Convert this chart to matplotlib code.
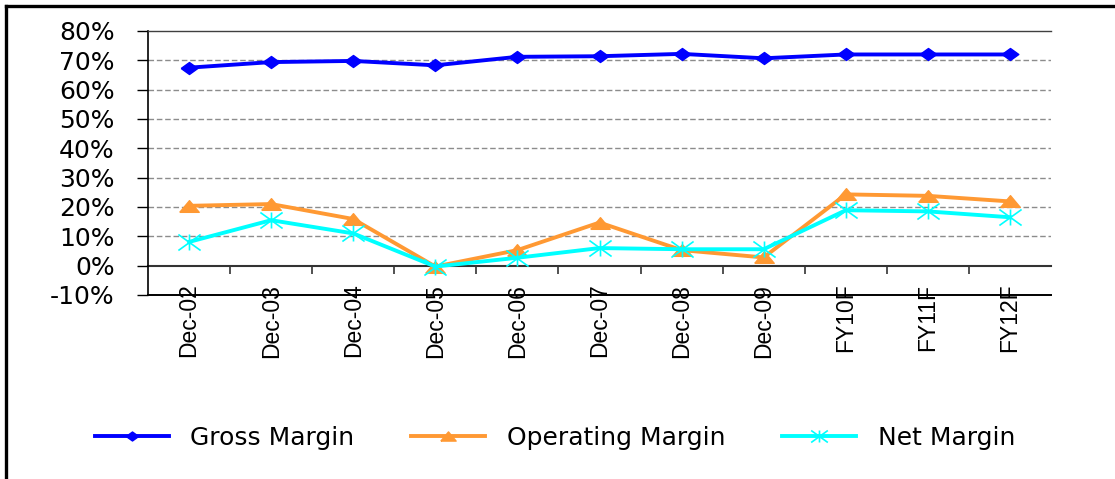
import matplotlib
matplotlib.use("Agg")
import matplotlib.pyplot as plt
from matplotlib.ticker import PercentFormatter, FixedLocator, NullFormatter
from matplotlib.path import Path
from matplotlib.lines import Line2D

plt.rcParams['axes.unicode_minus'] = False

categories = ["Dec-02", "Dec-03", "Dec-04", "Dec-05", "Dec-06", "Dec-07",
              "Dec-08", "Dec-09", "FY10F", "FY11F", "FY12F"]
gross_margin = [67.5, 69.4, 69.8, 68.3, 71.2, 71.4, 72.2, 70.7, 72.0, 72.0, 72.0]
operating_margin = [20.4, 21.0, 15.9, -0.3, 5.3, 14.7, 5.3, 2.8, 24.3, 23.8, 21.9]
net_margin = [8.1, 15.5, 11.0, -0.3, 2.7, 6.0, 5.6, 5.6, 18.9, 18.5, 16.5]
y_ticks = [-10, 0, 10, 20, 30, 40, 50, 60, 70, 80]

series_names = ["Gross Margin", "Operating Margin", "Net Margin"]
colors = ["#0000FF", "#FF9933", "#00FFFF"]

diamond = [(-1, 0), (0, 0.72), (1, 0), (0, -0.72), (-1, 0)]
triangle = [(-1, -0.6), (1, -0.6), (0, 0.6), (-1, -0.6)]
asterisk = Path([(0, -0.72), (0, 0.72), (-1, -0.72), (1, 0.72), (-1, 0.72), (1, -0.72)],
                [Path.MOVETO, Path.LINETO, Path.MOVETO, Path.LINETO, Path.MOVETO, Path.LINETO])

fig = plt.figure(figsize=(11.15, 4.79), dpi=100)
ax = fig.add_axes([148 / 1115, 1 - 295 / 479, (1051 - 148) / 1115, (295 - 31) / 479])

x = list(range(len(categories)))
ax.plot(x, gross_margin, color=colors[0], lw=2.8, marker=diamond, ms=12,
        mfc=colors[0], mec=colors[0], label=series_names[0], zorder=4)
ax.plot(x, operating_margin, color=colors[1], lw=2.8, marker=triangle, ms=14,
        mfc=colors[1], mec=colors[1], label=series_names[1], zorder=4)
ax.plot(x, net_margin, color=colors[2], lw=2.8, marker=asterisk, ms=16,
        mfc='none', mec=colors[2], mew=1.2, label=series_names[2], zorder=5)

ax.set_xlim(-0.5, len(categories) - 0.5)
ax.set_ylim(y_ticks[0], y_ticks[-1])
ax.set_yticks(y_ticks)
ax.yaxis.set_major_formatter(PercentFormatter(xmax=100, decimals=0))
ax.tick_params(axis='y', direction='out', length=8, width=1, pad=16,
               labelsize=18, colors='black')
for lab in ax.get_yticklabels():
    lab.set_family('DejaVu Sans')

# horizontal grid
for v in y_ticks[2:-1]:
    ax.axhline(v, color='#8c8c8c', lw=1.0, ls=(0, (4, 2)), zorder=1)

ax.spines['right'].set_visible(False)
ax.spines['top'].set_color('#404040')
ax.spines['top'].set_linewidth(1.0)
ax.spines['left'].set_color('black')
ax.spines['left'].set_linewidth(1.2)
ax.spines['bottom'].set_color('black')
ax.spines['bottom'].set_linewidth(1.4)

ax.set_xticks([])
# category axis crossing at 0%
sec = ax.secondary_xaxis(0, transform=ax.transData)
sec.spines['bottom'].set_color('#333333')
sec.spines['bottom'].set_linewidth(1.5)
sec.set_xticks(x)
sec.set_xticklabels(categories, rotation=90, ha='center', va='top',
                    family='Liberation Sans', fontsize=16.5)
sec.tick_params(axis='x', which='major', length=0, pad=13)
sec.xaxis.set_minor_locator(FixedLocator([i + 0.5 for i in x[:-1]]))
sec.xaxis.set_minor_formatter(NullFormatter())
sec.tick_params(axis='x', which='minor', direction='out', length=5.5, width=1.2,
                color='#333333')

leg = fig.legend(loc='center', bbox_to_anchor=(555 / 1115, 1 - 438 / 479), ncol=3,
                 frameon=False, prop={'family': 'DejaVu Sans', 'size': 18},
                 handlelength=2.96, handletextpad=0.88, columnspacing=2.26,
                 borderpad=0, borderaxespad=0)
for h, s in zip(leg.legend_handles, [9, 11, 12]):
    h.set_markersize(s)

# outer frame (top and left)
fig.add_artist(Line2D([6 / 1115, 1], [1 - 6 / 479, 1 - 6 / 479], color='black', lw=2.4,
                      transform=fig.transFigure))
fig.add_artist(Line2D([6 / 1115, 6 / 1115], [0, 1 - 6 / 479], color='black', lw=2.4,
                      transform=fig.transFigure))

fig.savefig("out.png", dpi=100)
